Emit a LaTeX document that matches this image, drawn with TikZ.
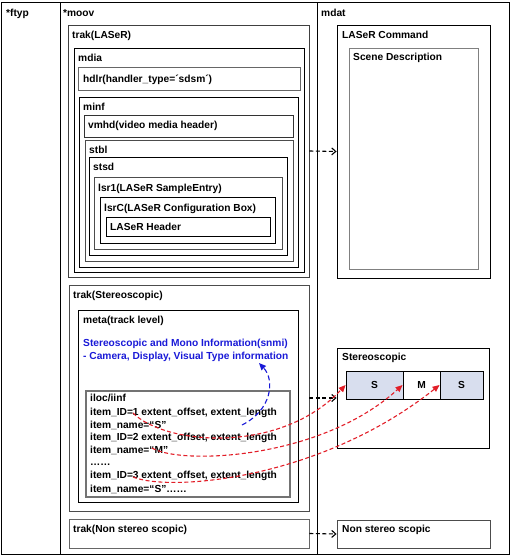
\documentclass[tikz,border=0pt]{standalone}
\usepackage{fontspec}
\setmainfont{Liberation Sans}
\usetikzlibrary{fit,arrows.meta}
\definecolor{redarr}{RGB}{226,30,40}
\definecolor{bluearr}{RGB}{25,25,215}
\definecolor{sfill}{RGB}{216,222,238}
\tikzset{
  B/.style={draw=black, inner sep=0pt, line width=0.9pt},
  L/.style={anchor=base west, inner sep=0pt, font=\fontsize{10.2}{12}\selectfont\bfseries},
  blk/.style={draw=black, line width=1.1pt, dash pattern=on 4pt off 2.5pt, -{Straight Barb[length=4pt,width=7pt]}},
  redc/.style={draw=redarr, line width=1.1pt, dash pattern=on 4pt off 2.5pt, -{Triangle[length=7pt,width=6pt]}},
  bluec/.style={draw=bluearr, line width=1.1pt, dash pattern=on 5pt off 3pt, -{Triangle[length=7pt,width=6pt]}},
}
\begin{document}
\begin{tikzpicture}[x=1pt,y=-1pt]
\useasboundingbox (0,0) rectangle (511,557);
% outer frame and columns
\node[B, line width=1pt, fit={(1.5,2.5)(509.5,554.5)}] (frame) {};
\coordinate (c1t) at (60,2.5); \coordinate (c1b) at (60,554.5);
\coordinate (c2t) at (317,2.5); \coordinate (c2b) at (317,554.5);
\draw[line width=0.9pt] (c1t) -- (c1b);
\draw[line width=0.9pt] (c2t) -- (c2b);
\node[L] (ftyp) at (6,16.5) {*ftyp};
\node[L] (moov) at (63,16.5) {*moov};
\node[L] (mdat) at (321,16.5) {mdat};
% trak(LASeR)
\node[B, draw=black!75, fit={(68,25)(309,277)}] (trakL) {};
\node[L] at (72,38.5) {trak(LASeR)};
\node[B, fit={(74,48)(304,272)}] (mdia) {};
\node[L] at (78,61) {mdia};
\node[B, draw=black!60, fit={(78,67)(300,90)}] (hdlr) {};
\node[L] at (83,82.5) {hdlr(handler\_type=´sdsm´)};
\node[B, fit={(79,97)(298,267)}] (minf) {};
\node[L] at (83,110.5) {minf};
\node[B, draw=black!80, fit={(84,115)(293,137)}] (vmhd) {};
\node[L] at (88,128.5) {vmhd(video media header)};
\node[B, draw=black!70, fit={(85,140)(293,261)}] (stbl) {};
\node[L] at (89,153.5) {stbl};
\node[B, fit={(89,157)(287,255)}] (stsd) {};
\node[L] at (93,170.5) {stsd};
\node[B, draw=black!70, fit={(94,177)(282,249)}] (lsr1) {};
\node[L] at (98,191.5) {lsr1(LASeR SampleEntry)};
\node[B, fit={(100,197)(275,243)}] (lsrC) {};
\node[L] at (104,211.5) {lsrC(LASeR Configuration Box)};
\node[B, fit={(106,217)(270,236)}] (lhdr) {};
\node[L] at (110,230.5) {LASeR Header};
% trak(Stereoscopic)
\node[B, draw=black!70, fit={(69,285)(309,511)}] (trakS) {};
\node[L] at (73,298.5) {trak(Stereoscopic)};
\node[B, fit={(78,310)(298,502)}] (meta) {};
\node[L] at (83,323.5) {meta(track level)};
\node[L, text=bluearr] (snmi1) at (83,346.5) {Stereoscopic and Mono Information(snmi)};
\node[L, text=bluearr] (snmi2) at (83,359.5) {- Camera, Display, Visual Type information};
\node[B, draw=black!55, line width=1.2pt, fit={(86,391)(290,497)}] (iloc) {};
\node[L] at (90,401.5) {iloc/iinf};
\node[L] at (90,415) {item\_ID=1 extent\_offset, extent\_length};
\node[L] at (90,428) {item\_name=“S”};
\node[L] at (90,440.5) {item\_ID=2 extent\_offset, extent\_length};
\node[L] at (90,453.5) {item\_name=“M”};
\node[L] at (90,465.5) {……};
\node[L] at (90,478.5) {item\_ID=3 extent\_offset, extent\_length};
\node[L] at (90,492) {item\_name=“S”……};
% trak(Non stereo scopic)
\node[B, draw=black!60, fit={(69,519)(309,548)}] (trakN) {};
\node[L] at (73,532.5) {trak(Non stereo scopic)};
% mdat side
\node[B, fit={(337,25)(490,278)}] (lcmd) {};
\node[L] at (342,38.5) {LASeR Command};
\node[B, draw=black!50, fit={(349,48)(478,269)}] (scene) {};
\node[L] at (353,60.5) {Scene Description};
\node[B, fit={(337,348)(489,448)}] (stereo) {};
\node[L] at (342,360.5) {Stereoscopic};
\node[B, fill=sfill, fit={(346,371)(403,399)}] (S1) {};
\node[B, fill=white, fit={(403,371)(440,399)}] (M) {};
\node[B, fill=sfill, fit={(440,371)(483,399)}] (S2) {};
\node[font=\fontsize{10.2}{12}\selectfont\bfseries] at (S1.center) {S};
\node[font=\fontsize{10.2}{12}\selectfont\bfseries] at (M.center) {M};
\node[font=\fontsize{10.2}{12}\selectfont\bfseries] at (S2.center) {S};
\node[B, draw=black!70, fit={(337,520)(490,548)}] (nst) {};
\node[L] at (342,532.5) {Non stereo scopic};
% black dashed arrows
\draw[blk] (trakL.east) -- (lcmd.west);
\draw[blk] (trakS.east) -- (stereo.west);
\draw[blk] (trakN.east) -- (nst.west);
% red curved arrows
\coordinate (r1) at (133,413);
\coordinate (r2) at (152,448);
\coordinate (r3) at (133,477);
\draw[redc] (r1) .. controls (165,445) and (280,455) .. (S1.west);
\draw[redc] (r2) .. controls (180,465) and (320,460) .. (M.west);
\draw[redc] (r3) .. controls (170,492) and (320,480) .. (S2.west);
% blue arrow
\coordinate (b1) at (242,425);
\coordinate (b2) at (259,363);
\draw[bluec] (b1) .. controls (272,410) and (275,380) .. (b2);
\end{tikzpicture}
\end{document}
